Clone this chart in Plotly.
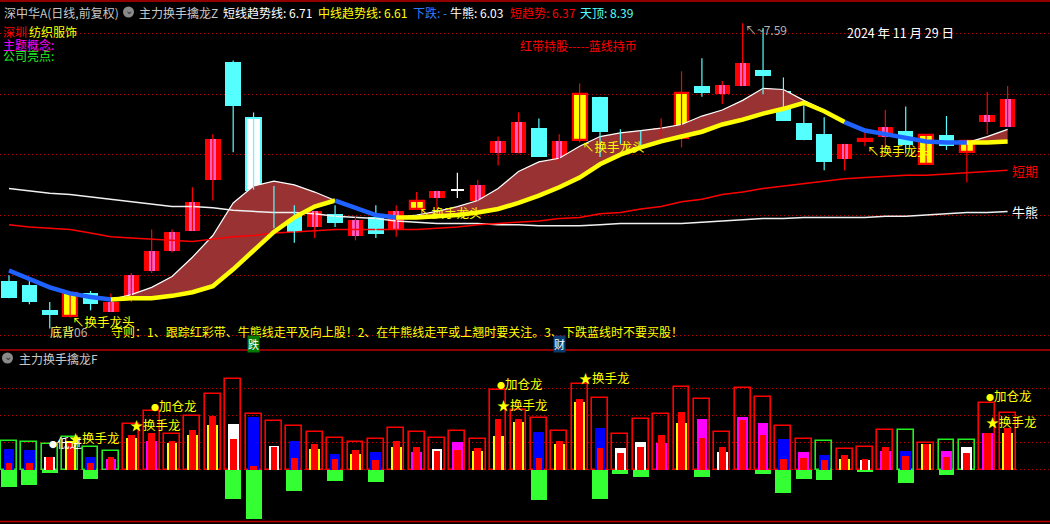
import plotly.graph_objects as go

# ---------------- main panel data ----------------
days = list(range(50))
open_p = [5.45, 5.42, 5.21, 5.16, 5.35, 5.20, 5.31, 5.54, 5.70, 5.87,
          6.29, 7.27, 6.80, 6.10, 6.05, 5.90, 6.01, 5.83, 5.98, 5.88,
          6.05, 6.14, 6.20, 6.12, 6.51, 6.51, 6.72, 6.44, 6.62, 6.98,
          6.67, 6.68, 6.64, 6.64, 7.07, 7.00, 7.07, 7.20, 7.03, 6.76,
          6.67, 6.46, 6.63, 6.65, 6.70, 6.42, 6.66, 6.52, 6.77, 6.73]
high_p = [5.50, 5.46, 5.28, 5.35, 5.37, 5.35, 5.52, 5.88, 5.88, 6.23,
          6.67, 7.28, 6.85, 6.24, 6.08, 6.03, 6.08, 5.99, 6.08, 6.08,
          6.19, 6.20, 6.35, 6.29, 6.65, 6.85, 6.80, 6.67, 7.09, 6.98,
          6.71, 6.70, 6.80, 7.19, 7.30, 7.11, 7.59, 7.55, 7.14, 6.95,
          6.81, 6.59, 6.69, 6.87, 6.90, 6.66, 6.82, 6.61, 7.02, 7.07]
low_p = [5.31, 5.26, 5.06, 5.15, 5.21, 5.20, 5.28, 5.52, 5.69, 5.87,
         6.12, 6.52, 6.21, 5.89, 5.77, 5.81, 5.90, 5.79, 5.81, 5.82,
         6.05, 6.05, 6.14, 6.12, 6.41, 6.51, 6.48, 6.44, 6.60, 6.48,
         6.59, 6.58, 6.64, 6.56, 6.98, 6.92, 7.07, 7.00, 6.78, 6.62,
         6.37, 6.37, 6.57, 6.56, 6.51, 6.42, 6.54, 6.27, 6.67, 6.73]
close_p = [5.31, 5.28, 5.17, 5.35, 5.26, 5.28, 5.50, 5.70, 5.86, 6.11,
           6.63, 6.90, 6.21, 6.06, 5.86, 6.03, 5.93, 5.96, 5.84, 6.03,
           6.12, 6.20, 6.20, 6.25, 6.61, 6.77, 6.48, 6.61, 7.00, 6.69,
           6.64, 6.64, 6.72, 7.01, 7.01, 7.08, 7.26, 7.15, 6.78, 6.62,
           6.44, 6.59, 6.615, 6.73, 6.58, 6.66, 6.57, 6.61, 6.83, 6.96]
candle_kind = ['d', 'd', 'd', 'y', 'd', 'u', 'u', 'u', 'u', 'u',
               'u', 'd', 'w', 'd', 'd', 'u', 'd', 'u', 'd', 'u',
               'y', 'u', 'x', 'u', 'u', 'u', 'd', 'u', 'y', 'd',
               'd', 'd', 'u', 'y', 'd', 'u', 'u', 'd', 'd', 'd',
               'd', 'u', 'y', 'u', 'd', 'y', 'd', 'y', 'u', 'u']

# 短线趋势线 (drawn only inside the red band)
short_line = [None, None, None, None, None, 5.30, 5.34, 5.40, 5.49, 5.65,
              5.83, 6.10, 6.24, 6.28, 6.25, 6.19, 6.12, None, None, 5.98,
              6.00, 6.03, 6.07, 6.12, 6.22, 6.36, 6.44, 6.47, 6.57, 6.65,
              6.68, 6.70, 6.72, 6.75, 6.82, 6.87, 6.95, 7.05, 7.04, 6.95,
              6.87, 6.77, None, None, None, None, None, 6.60, 6.65, 6.71]
# 中线趋势线
mid_line = [5.54, 5.47, 5.40, 5.35, 5.32, 5.30, 5.31, 5.31, 5.33, 5.36,
            5.41, 5.55, 5.71, 5.86, 5.98, 6.07, 6.12, 6.06, 6.00, 5.98,
            5.98, 5.99, 6.00, 6.02, 6.05, 6.10, 6.16, 6.23, 6.31, 6.42,
            6.50, 6.56, 6.61, 6.65, 6.69, 6.75, 6.79, 6.84, 6.88, 6.93,
            6.86, 6.77, 6.70, 6.67, 6.64, 6.61, 6.60, 6.60, 6.60, 6.61]
# state of each segment i -> i+1 : 0 = falling (blue), 1 = rising (yellow)
mid_state = [0, 0, 0, 0, 0, 1, 1, 1, 1, 1, 1, 1, 1, 1, 1, 1, 0, 0, 0, 1,
             1, 1, 1, 1, 1, 1, 1, 1, 1, 1, 1, 1, 1, 1, 1, 1, 1, 1, 1, 1,
             1, 0, 0, 0, 0, 0, 0, 1, 1]
# 牛熊
bull_bear = [6.22, 6.20, 6.18, 6.17, 6.15, 6.13, 6.11, 6.09, 6.07, 6.07,
             6.06, 6.04, 6.03, 6.02, 6.02, 6.01, 5.99, 5.98, 5.97, 5.95,
             5.94, 5.93, 5.93, 5.93, 5.92, 5.92, 5.91, 5.91, 5.91, 5.92,
             5.93, 5.93, 5.93, 5.93, 5.94, 5.95, 5.96, 5.97, 5.97, 5.98,
             5.98, 5.98, 5.98, 5.99, 5.99, 6.00, 6.01, 6.02, 6.02, 6.03]
# 短趋势 / 短期
short_term = [5.92, 5.90, 5.89, 5.88, 5.85, 5.82, 5.81, 5.80, 5.79, 5.78,
              5.80, 5.82, 5.83, 5.85, 5.86, 5.87, 5.88, 5.88, 5.88, 5.88,
              5.88, 5.89, 5.90, 5.92, 5.93, 5.94, 5.95, 5.97, 5.98, 6.01,
              6.02, 6.05, 6.07, 6.11, 6.13, 6.17, 6.19, 6.22, 6.24, 6.26,
              6.28, 6.30, 6.31, 6.32, 6.33, 6.33, 6.34, 6.35, 6.36, 6.37]
tianding = 8.39
head_days = [3, 20, 28, 42]          # 换手龙头
bottom_div_day = 2                   # 底背
peak_day = 36                        # 7.59
tag_die_day = 12                     # 跌
tag_cai_day = 27                     # 财

# ---------------- lower panel data ----------------
f_outline = [10.6, 10.1, 9.4, 12.0, 8.4, 6.9, 16.8, 21.7, 13.1, 19.8,
             27.9, 33.5, 20.5, 18.0, 16.1, 13.9, 11.6, 10.1, 11.3, 15.3,
             13.9, 11.6, 14.2, 11.3, 29.4, 22.1, 19.0, 14.3, 31.6, 26.4,
             13.1, 18.7, 20.5, 30.5, 26.1, 13.9, 30.1, 26.8, 16.1, 11.3,
             10.6, 7.6, 8.3, 14.6, 14.6, 9.8, 11.0, 11.0, 24.6, 20.9]
f_outline_kind = ['g', 'g', 'g', 'g', 'g', 'g', 'r', 'r', 'r', 'r',
                  'r', 'r', 'r', 'r', 'r', 'r', 'r', 'r', 'r', 'r',
                  'r', 'r', 'r', 'r', 'r', 'r', 'r', 'r', 'r', 'r',
                  'r', 'r', 'r', 'r', 'r', 'r', 'r', 'r', 'r', 'r',
                  'g', 'r', 'r', 'r', 'g', 'r', 'g', 'g', 'r', 'r']
f_wide = [7.7, 7.3, 4.8, 10.6, 4.7, 4.0, 11.9, 10.6, 10.0, 12.9,
          16.6, 16.9, 19.5, 8.8, 10.6, 7.7, 5.8, 5.8, 6.6, 8.4,
          6.6, 7.7, 10.3, 6.9, 12.5, 17.7, 14.0, 9.5, 25.1, 15.4,
          8.0, 10.3, 9.9, 17.3, 18.8, 6.6, 19.5, 17.3, 11.4, 6.6,
          5.4, 4.0, 3.6, 6.9, 6.9, 9.5, 6.9, 8.4, 13.6, 13.6]
f_wide_kind = ['b', 'b', 'w', 'y', 'b', 'm', 'y', 'm', 'y', 'y',
               'y', 'w', 'b', 'w', 'b', 'y', 'b', 'y', 'b', 'y',
               'm', 'w', 'm', 'y', 'y', 'y', 'b', 'y', 'y', 'b',
               'w', 'w', 'm', 'y', 'm', 'w', 'm', 'm', 'b', 'm',
               'b', 'y', 'w', 'm', 'b', 'y', 'm', 'w', 'm', 'y']
f_narrow = [2.5, 2.5, 4.6, 9.9, 2.6, 4.7, 12.9, 13.6, 10.6, 14.7,
            19.9, 11.4, 1.4, 8.3, 4.4, 9.6, 4.0, 7.3, 3.6, 10.6,
            8.4, 6.9, 7.3, 8.0, 18.8, 18.8, 4.3, 10.6, 26.2, 8.0,
            6.2, 8.4, 12.9, 21.4, 11.7, 8.4, 18.4, 12.9, 4.0, 4.3,
            3.6, 5.4, 4.0, 8.4, 5.1, 9.5, 4.7, 6.2, 13.6, 15.4]
f_neg = [-6.3, -5.6, -1.1, 0, -3.4, 0, 0, 0, 0, 0,
         0, -10.9, -18.3, 0, -7.9, 0, -4.2, 0, -4.4, 0,
         0, 0, 0, 0, 0, 0, -11.2, 0, 0, -10.9,
         -1.5, -2.6, 0, 0, -2.6, 0, 0, -1.5, -8.6, -3.4,
         -3.8, 0, -0.7, 0, -4.8, 0, -1.9, 0, 0, 0]
sig_day = [2, 3, 6, 7, 24, 24, 28, 48, 48]
sig_val = [9.9, 12.1, 16.6, 23.6, 32.1, 24.0, 34.0, 27.3, 17.7]
sig_mark = ['●', '★', '★', '●', '●', '★', '★', '●', '★']
sig_text = ['低进', '换手龙', '换手龙', '加仓龙', '加仓龙', '换手龙', '换手龙', '加仓龙', '换手龙']

# ---------------- styles ----------------
RED = '#FF0000'
PINK = '#FF5CC4'
CYAN = '#55FFFF'
YEL = '#FFFF00'
BLUE_LINE = '#1F62FF'
BAND = '#993333'
GRID = '#C00000'
FONT = 'Noto Sans CJK SC'
W, H = 1050, 524

def px(xp):
    return xp / W

def py(yp):
    return 1 - yp / H

fig = go.Figure()

# --- red band between short and mid trend lines ---
runs = []
start = None
for i, v in enumerate(short_line):
    if v is not None and start is None:
        start = i
    if (v is None or i == len(short_line) - 1) and start is not None:
        end = i if v is not None else i - 1
        runs.append((start, end))
        start = None
for a, b in runs:
    xs = days[a:b + 1]
    fig.add_trace(go.Scatter(x=xs, y=mid_line[a:b + 1], mode='lines',
                             line=dict(width=0, color=BAND), hoverinfo='skip'))
    fig.add_trace(go.Scatter(x=xs, y=short_line[a:b + 1], mode='lines', fill='tonexty',
                             fillcolor=BAND, line=dict(width=1.2, color='white'), hoverinfo='skip'))

# --- thin lines ---
fig.add_trace(go.Scatter(x=days, y=bull_bear, mode='lines', line=dict(color='#F0F0F0', width=1.5)))
fig.add_trace(go.Scatter(x=days, y=short_term, mode='lines', line=dict(color=RED, width=1.5)))

# --- wicks ---
for kind, col in [('u', RED), ('y', RED), ('d', CYAN), ('w', CYAN), ('x', 'white')]:
    wx, wy = [], []
    for i in days:
        if candle_kind[i] == kind:
            wx += [i, i, None]
            wy += [low_p[i], high_p[i], None]
    if wx:
        fig.add_trace(go.Scatter(x=wx, y=wy, mode='lines', line=dict(color=col, width=1.2),
                                 hoverinfo='skip'))

def body(kind):
    xs, base, hgt = [], [], []
    for i in days:
        if candle_kind[i] == kind:
            lo = min(open_p[i], close_p[i])
            h = abs(close_p[i] - open_p[i])
            xs.append(i)
            base.append(lo)
            hgt.append(max(h, 0.012))
    return xs, base, hgt

x, b, h = body('u')
fig.add_trace(go.Bar(x=x, y=h, base=b, width=0.76, marker=dict(color=RED, line=dict(width=0))))
fig.add_trace(go.Bar(x=x, y=h, base=b, width=0.30, marker=dict(color=PINK, line=dict(width=0))))
x, b, h = body('d')
fig.add_trace(go.Bar(x=x, y=h, base=b, width=0.76, marker=dict(color=CYAN, line=dict(width=0))))
x, b, h = body('y')
fig.add_trace(go.Bar(x=x, y=h, base=b, width=0.68, marker=dict(color=YEL, line=dict(width=2.2, color=RED))))
x, b, h = body('w')
fig.add_trace(go.Bar(x=x, y=h, base=b, width=0.70, marker=dict(color='white', line=dict(width=2, color=CYAN))))
x, b, h = body('x')
fig.add_trace(go.Bar(x=x, y=h, base=b, width=0.66, marker=dict(color='white', line=dict(width=0))))

# --- thick mid trend line, coloured by state ---
seg_start = 0
for i in range(1, len(mid_state) + 1):
    if i == len(mid_state) or mid_state[i] != mid_state[seg_start]:
        col = YEL if mid_state[seg_start] == 1 else BLUE_LINE
        fig.add_trace(go.Scatter(x=days[seg_start:i + 1], y=mid_line[seg_start:i + 1], mode='lines',
                                 line=dict(color=col, width=4.5)))
        seg_start = i

# ---------------- lower panel ----------------
oc = {'r': RED, 'g': '#22EE22'}
wc = {'b': '#0000FF', 'w': '#FFFFFF', 'y': YEL, 'm': '#FF00FF'}
fig.add_trace(go.Bar(x=days, y=f_neg, width=0.78, yaxis='y2',
                     marker=dict(color='#33FF33', line=dict(width=0))))
fig.add_trace(go.Bar(x=days, y=f_outline, width=0.78, yaxis='y2',
                     marker=dict(color='rgba(0,0,0,0)',
                                 line=dict(width=1.6, color=[oc[k] for k in f_outline_kind]))))
fig.add_trace(go.Bar(x=days, y=f_wide, width=0.53, yaxis='y2',
                     marker=dict(color=[wc[k] for k in f_wide_kind], line=dict(width=0))))
fig.add_trace(go.Bar(x=days, y=f_narrow, width=0.33, yaxis='y2',
                     marker=dict(color=RED, line=dict(width=0))))

# ---------------- texts ----------------
ann = []

def ptext(xp, yp, text, color, size=12):
    ann.append(dict(x=px(xp), y=py(yp), xref='paper', yref='paper', text=text, showarrow=False,
                    xanchor='left', yanchor='middle', font=dict(color=color, size=size, family=FONT)))

ptext(2, 12, '深中华A(日线,前复权)', '#C8C8C8')
ptext(137, 12, '主力换手擒龙Z', '#C8C8C8')
ptext(221, 12, f'短线趋势线: {short_line[-1]:.2f}', 'white')
ptext(316, 12, f'中线趋势线: {mid_line[-1]:.2f}', YEL)
ptext(411, 12, '下跌: -', '#2F7BFF')
ptext(448, 12, f'牛熊: {bull_bear[-1]:.2f}', 'white')
ptext(508, 12, f'短趋势: {short_term[-1]:.2f}', RED)
ptext(578, 12, f'天顶: {tianding:.2f}', CYAN)
ptext(1, 32, '深圳', RED)
ptext(27, 32, '纺织服饰', YEL)
ptext(1, 44, '主题概念:', '#FF00FF')
ptext(1, 56, '公司亮点:', '#22EE22')
ptext(518, 46, '红带持股-----蓝线持币', RED)
ptext(845, 33, '2024 年 11 月 29 日', 'white', 12.5)
ptext(109, 332, '守则：1、跟踪红彩带、牛熊线走平及向上股！2、在牛熊线走平或上翘时要关注。3、下跌蓝线时不要买股！', YEL, 12)
ptext(17, 358, '主力换手擒龙F', '#C8C8C8')

for d in head_days:
    ann.append(dict(x=d, y=low_p[d], xref='x', yref='y', text='↖换手龙头', showarrow=False,
                    xanchor='left', yanchor='middle', yshift=-4,
                    font=dict(color=YEL, size=12.5, family=FONT)))
ann.append(dict(x=bottom_div_day, y=low_p[bottom_div_day], xref='x', yref='y',
                text='<span style="color:#FFFF66">底背</span>06', showarrow=False,
                xanchor='left', yanchor='middle', yshift=-3, xshift=-2,
                font=dict(color='#B4B4B4', size=12, family=FONT)))
ann.append(dict(x=peak_day, y=high_p[peak_day], xref='x', yref='y', text=f'↖~{high_p[peak_day]:.2f}',
                showarrow=False, xanchor='left', yanchor='top', yshift=4,
                font=dict(color='#B4B4B4', size=12, family=FONT)))
ann.append(dict(x=days[-1], y=short_term[-1], xref='x', yref='y', text='短期', showarrow=False,
                xanchor='left', yanchor='middle', xshift=2, font=dict(color=RED, size=13, family=FONT)))
ann.append(dict(x=days[-1], y=bull_bear[-1], xref='x', yref='y', text='牛熊', showarrow=False,
                xanchor='left', yanchor='middle', xshift=2, font=dict(color='white', size=13, family=FONT)))
ann.append(dict(x=tag_die_day, y=py(343.5), xref='x', yref='paper', text='跌', showarrow=False,
                bgcolor='#007A00', borderpad=0, font=dict(color='white', size=11, family=FONT)))
ann.append(dict(x=tag_cai_day, y=py(343.5), xref='x', yref='paper', text='财', showarrow=False,
                bgcolor='#0B3C70', borderpad=0, font=dict(color='white', size=11, family=FONT)))
for d, v, m, t in zip(sig_day, sig_val, sig_mark, sig_text):
    col = 'white' if t == '低进' else YEL
    msize = 8 if m == '●' else 13
    ann.append(dict(x=d, y=v, xref='x', yref='y2',
                    text=f'<span style="font-size:{msize}px;color:{YEL if m == "★" else col}">{m}</span>{t}',
                    showarrow=False, xanchor='left', yanchor='middle', xshift=-3,
                    font=dict(color=col, size=12.5, family=FONT)))

shapes = [
    dict(type='line', xref='paper', yref='paper', x0=0, x1=1, y0=py(1), y1=py(1),
         line=dict(color='#C00000', width=1.5)),
    dict(type='line', xref='paper', yref='paper', x0=0, x1=1, y0=py(350), y1=py(350),
         line=dict(color='#C00000', width=1.5)),
    dict(type='line', xref='paper', yref='paper', x0=0, x1=1, y0=py(521.5), y1=py(521.5),
         line=dict(color='#C00000', width=1.5)),
    dict(type='circle', xref='paper', yref='paper', x0=px(123), x1=px(134), y0=py(17.5), y1=py(6.5),
         fillcolor='#8A8A8A', line=dict(width=0)),
    dict(type='circle', xref='paper', yref='paper', x0=px(2), x1=px(13), y0=py(363.5), y1=py(352.5),
         fillcolor='#8A8A8A', line=dict(width=0)),
]
for cx, cy in [(128.5, 12), (7.5, 358)]:
    ann.append(dict(x=px(cx), y=py(cy), xref='paper', yref='paper', text='⌄', showarrow=False,
                    xanchor='center', yanchor='middle', yshift=2,
                    font=dict(color='#303030', size=10, family='DejaVu Sans')))

fig.update_layout(
    width=W, height=H, margin=dict(l=0, r=0, t=0, b=0),
    paper_bgcolor='black', plot_bgcolor='black',
    barmode='overlay', showlegend=False, bargap=0,
    font=dict(family=FONT, color='white'),
    xaxis=dict(range=[-0.4416, 51.08], showgrid=False, zeroline=False, showticklabels=False,
               showline=False, ticks=''),
    yaxis=dict(domain=[py(349), 1], range=[4.8895, 7.7817], tickvals=[5, 5.5, 6, 6.5, 7, 7.5],
               showticklabels=False, showgrid=True, gridcolor=GRID, griddash='1px,3px', gridwidth=1,
               zeroline=False, ticks=''),
    yaxis2=dict(domain=[0, py(351)], range=[-20.11, 43.96], tickvals=[0, 10, 20, 30],
                showticklabels=False, showgrid=True, gridcolor=GRID, griddash='1px,3px', gridwidth=1,
                zeroline=False, ticks='', anchor='x'),
    annotations=ann, shapes=shapes,
)

fig.write_html("out.html", config={'displayModeBar': False},
               post_script="document.body.style.margin='0';document.body.style.background='black';")
